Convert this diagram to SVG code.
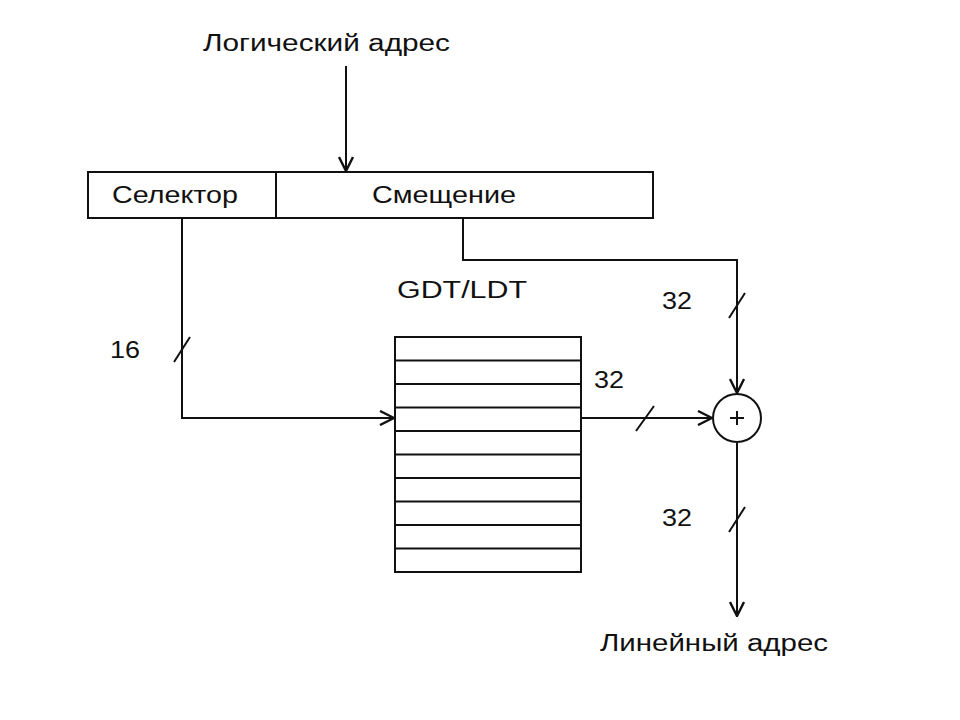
<svg xmlns="http://www.w3.org/2000/svg" width="960" height="720" viewBox="0 0 960 720">
<style>
  .t { font-family: "Liberation Sans", "DejaVu Sans", sans-serif; font-size: 23px; fill: #111; }
  .ln { fill: none; stroke: #111; stroke-width: 2; }
  .box { fill: #fff; stroke: #111; stroke-width: 2; }
</style>
<defs>
  <marker id="arr" viewBox="0 0 16 16" refX="15" refY="8" markerWidth="16" markerHeight="16" markerUnits="userSpaceOnUse" orient="auto">
    <path d="M1,1 L15,8 L1,15" fill="none" stroke="#111" stroke-width="2.4"/>
  </marker>
</defs>
<rect width="960" height="720" fill="#fff"/>

<g id="connectors">
  <line class="ln" x1="346" y1="66" x2="346" y2="171" marker-end="url(#arr)"/>
  <polyline class="ln" points="182,218 182,418 394,418" marker-end="url(#arr)"/>
  <polyline class="ln" points="463,218 463,260 737,260 737,393" marker-end="url(#arr)"/>
  <line class="ln" x1="581" y1="418" x2="712" y2="418" marker-end="url(#arr)"/>
  <line class="ln" x1="737" y1="443" x2="737" y2="616" marker-end="url(#arr)"/>
  <!-- bus width slashes -->
  <line class="ln" x1="174" y1="362" x2="190" y2="337"/>
  <line class="ln" x1="729" y1="318" x2="745" y2="293"/>
  <line class="ln" x1="636" y1="431" x2="654" y2="406"/>
  <line class="ln" x1="729" y1="532" x2="745" y2="507"/>
</g>

<g id="logical-address">
  <text class="t" x="203" y="51" textLength="247" lengthAdjust="spacingAndGlyphs">Логический адрес</text>
</g>

<g id="register">
  <rect class="box" x="88" y="172" width="565" height="46"/>
  <line class="ln" x1="276" y1="172" x2="276" y2="218"/>
  <text class="t" x="112" y="203" textLength="126" lengthAdjust="spacingAndGlyphs">Селектор</text>
  <text class="t" x="372" y="203" textLength="144" lengthAdjust="spacingAndGlyphs">Смещение</text>
</g>

<g id="gdt-ldt">
  <text class="t" x="397" y="298" textLength="130" lengthAdjust="spacingAndGlyphs">GDT/LDT</text>
  <rect class="box" x="395" y="337" width="186" height="235"/>
  <path class="ln" d="M395,360.5H581M395,384H581M395,407.5H581M395,431H581M395,454.5H581M395,478H581M395,501.5H581M395,525H581M395,548.5H581"/>
</g>

<g id="adder">
  <circle class="box" cx="737" cy="418" r="24"/>
  <path class="ln" d="M730,418H744M737,411V425" stroke-width="1.5"/>
</g>

<g id="labels">
  <text class="t" x="110" y="358" textLength="30" lengthAdjust="spacingAndGlyphs">16</text>
  <text class="t" x="662" y="309" textLength="30" lengthAdjust="spacingAndGlyphs">32</text>
  <text class="t" x="594" y="388" textLength="30" lengthAdjust="spacingAndGlyphs">32</text>
  <text class="t" x="662" y="526" textLength="30" lengthAdjust="spacingAndGlyphs">32</text>
</g>

<g id="linear-address">
  <text class="t" x="600" y="651" textLength="228" lengthAdjust="spacingAndGlyphs">Линейный адрес</text>
</g>
</svg>
